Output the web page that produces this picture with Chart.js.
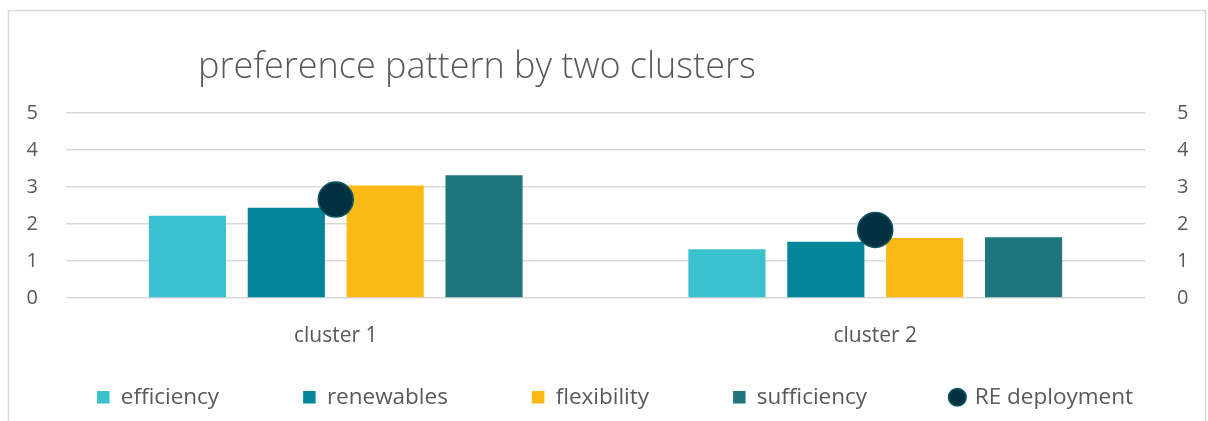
<!DOCTYPE html>
<html>
<head>
<meta charset="utf-8">
<script src="https://cdn.jsdelivr.net/npm/chart.js@4.4.1/dist/chart.umd.min.js"></script>
<style>
  body { margin: 0; background: #fff; }
  #wrap { position: relative; width: 1208px; height: 421px; }
</style>
</head>
<body>
<div id="wrap"><canvas id="prefChart"></canvas></div>
<script>
const clusters = ['cluster 1', 'cluster 2'];
const efficiency = [2.22, 1.32];
const renewables = [2.44, 1.52];
const flexibility = [3.04, 1.62];
const sufficiency = [3.32, 1.64];
const reDeployment = [2.66, 1.84];
const yTicks = [0, 1, 2, 3, 4, 5];

const textColor = '#595959';
const gridColor = '#d9d9d9';
const fontFamily = "'Open Sans', 'Noto Sans', sans-serif";

// frame + small layout nudges (title sits left of centre, legend a bit right,
// x labels allowed to draw below the squeezed x axis box)
const framePlugin = {
  id: 'frame',
  afterLayout(chart) {
    if (chart.titleBlock) {
      chart.titleBlock.left = 198;
    }
    if (chart.legend) {
      chart.legend.left += 11;
      chart.legend.right += 11;
    }
    const x = chart.scales.x;
    x.bottom = x.top + 70;
  },
  beforeDraw(chart) {
    const ctx = chart.ctx;
    ctx.save();
    ctx.strokeStyle = '#d9d9d9';
    ctx.lineWidth = 1.5;
    ctx.strokeRect(8.5, 10.5, 1197, 430);
    ctx.restore();
  }
};

function barSet(label, data, color) {
  return {
    type: 'bar',
    label: label,
    data: data,
    backgroundColor: color,
    borderWidth: 0,
    pointStyle: 'rect',
    order: 1,
    yAxisID: 'y'
  };
}

const ctx = document.getElementById('prefChart').getContext('2d');
const prefChart = new Chart(ctx, {
  type: 'bar',
  data: {
    labels: clusters,
    datasets: [
      barSet('efficiency', efficiency, '#3ac1cd'),
      barSet('renewables', renewables, '#028599'),
      barSet('flexibility', flexibility, '#fbb915'),
      barSet('sufficiency', sufficiency, '#1f767e'),
      {
        type: 'line',
        label: 'RE deployment',
        data: reDeployment,
        showLine: false,
        pointStyle: 'circle',
        pointRadius: 17.5,
        pointHoverRadius: 17.5,
        backgroundColor: '#023241',
        borderColor: '#0b5663',
        pointBorderWidth: 1.5,
        borderWidth: 1.5,
        order: 0,
        yAxisID: 'y'
      }
    ]
  },
  options: {
    responsive: true,
    maintainAspectRatio: false,
    animation: false,
    categoryPercentage: 0.733,
    barPercentage: 0.78,
    layout: {
      padding: { top: 10, left: 0, right: 0, bottom: 2.5 }
    },
    plugins: {
      title: {
        display: true,
        text: 'preference pattern by two clusters',
        align: 'start',
        color: textColor,
        font: { family: fontFamily, size: 36, weight: '300', lineHeight: 1.2 },
        padding: { top: 36.3, bottom: 23.5 }
      },
      legend: {
        display: true,
        position: 'bottom',
        labels: {
          color: textColor,
          font: { family: fontFamily, size: 22.5 },
          usePointStyle: true,
          boxWidth: 12.5,
          boxHeight: 12.5,
          padding: 84,
          sort: (a, b) => a.datasetIndex - b.datasetIndex
        }
      },
      tooltip: { enabled: false }
    },
    scales: {
      x: {
        grid: { display: false },
        border: { display: false },
        ticks: {
          color: textColor,
          font: { family: fontFamily, size: 21 },
          padding: 17
        },
        afterFit(scale) { scale.height = 4; }
      },
      y: {
        position: 'left',
        min: 0,
        max: 5,
        afterBuildTicks(scale) { scale.ticks = yTicks.map(v => ({ value: v })); },
        grid: { color: gridColor, lineWidth: 1.5, drawTicks: false },
        border: { display: false },
        ticks: {
          color: textColor,
          font: { family: fontFamily, size: 20 },
          padding: 28,
          autoSkip: false
        },
        afterFit(scale) { scale.width = 66; }
      },
      y2: {
        position: 'right',
        min: 0,
        max: 5,
        afterBuildTicks(scale) { scale.ticks = yTicks.map(v => ({ value: v })); },
        grid: { display: false, drawTicks: false },
        border: { display: false },
        ticks: {
          color: textColor,
          font: { family: fontFamily, size: 20 },
          padding: 32,
          autoSkip: false
        },
        afterFit(scale) { scale.width = 63; }
      }
    }
  },
  plugins: [framePlugin]
});
</script>
</body>
</html>
